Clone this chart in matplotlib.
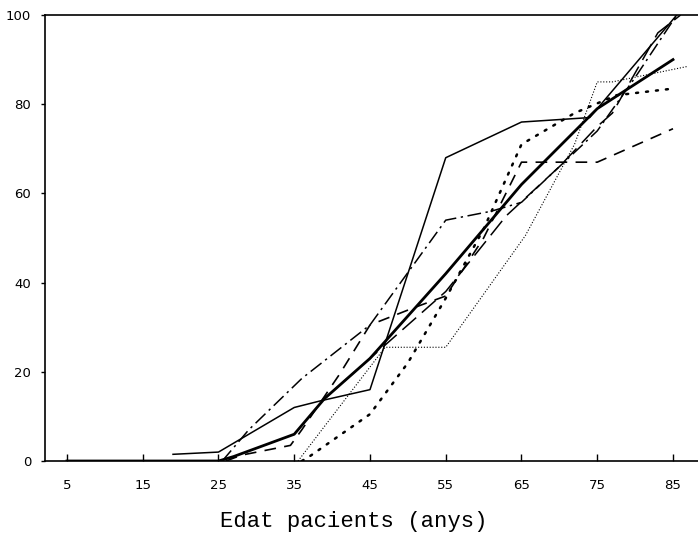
"""
Cumulative % of patients by age, several series plus the mean (thick line).
"""
import matplotlib
matplotlib.use("Agg")
import matplotlib.pyplot as plt

# age ticks (class midpoints)
age_ticks = [5, 15, 25, 35, 45, 55, 65, 75, 85]
pct_ticks = [0, 20, 40, 60, 80, 100]

# mean curve (thick solid)
mean_x = [5, 25, 27, 35, 39, 45, 55, 65, 75, 85]
mean_y = [0, 0, 1, 6, 14, 23, 42, 62, 79, 90]

# thin solid
solid_x = [19, 25, 27, 35, 38.5, 45, 55, 65, 74, 85.5]
solid_y = [1.5, 2, 4, 12, 13.5, 16, 68, 76, 77, 100]

# dash-dot
dashdot_x = [25.5, 29, 36, 45, 55, 61, 65, 70, 75, 80, 85.5]
dashdot_y = [0, 7, 18.5, 30.5, 54, 56, 58, 66, 74, 86, 100]

# medium dashes
dashed_x = [26, 28, 34.5, 36, 41, 45, 51, 55, 60, 65, 75, 85]
dashed_y = [0, 1.3, 3.5, 7, 19.5, 30.5, 34.5, 37, 50, 67, 67, 74.5]

# long dashes
longdash_x = [39, 47, 55, 63, 70, 75, 77, 83, 86]
longdash_y = [14, 26, 38, 55, 66, 75, 78, 96, 100]

# fine dots
finedot_x = [35.5, 40, 47, 55, 65.5, 72, 75, 77, 87]
finedot_y = [0, 10, 25.5, 25.5, 50.5, 71, 85, 85, 88.5]

# coarse dots
coarsedot_x = [36, 37, 45, 50, 55, 60, 65, 72, 77.5, 85]
coarsedot_y = [0, 1, 10.5, 22, 36.5, 52, 71, 78, 82, 83.5]

fig = plt.figure(figsize=(6.98, 5.37), dpi=100)
ax = fig.add_axes([45 / 698, 1 - 461 / 537, 1 - 45 / 698, (461 - 15) / 537])

ax.plot(solid_x, solid_y, color="black", lw=1.1)
ax.plot(dashdot_x, dashdot_y, color="black", lw=1.1, ls=(0, (9, 3, 1.5, 3)))
ax.plot(dashed_x, dashed_y, color="black", lw=1.2, ls=(0, (7, 5)))
ax.plot(longdash_x, longdash_y, color="black", lw=1.1, ls=(0, (12, 5)))
ax.plot(finedot_x, finedot_y, color="black", lw=0.8, ls=(0, (1, 1.6)))
ax.plot(coarsedot_x, coarsedot_y, color="black", lw=1.8, ls=(0, (0.8, 3.2)),
        dash_capstyle="round")
ax.plot(mean_x, mean_y, color="black", lw=2.0)

ax.set_xlim(2.1, 88.3)
ax.set_ylim(0, 100)
ax.spines["right"].set_visible(False)
for s in ["left", "bottom", "top"]:
    ax.spines[s].set_linewidth(1.2)

ax.set_xticks(age_ticks)
ax.set_yticks(pct_ticks)
ax.tick_params(axis="x", direction="in", length=5, width=1, pad=13, labelsize=9.5)
ax.tick_params(axis="y", direction="out", length=3, width=1, pad=7, labelsize=9.5)
for lab in ax.get_xticklabels() + ax.get_yticklabels():
    lab.set_family(["Liberation Sans Narrow", "DejaVu Sans"])

fig.text(354 / 698, 1 - 522 / 537, "Edat pacients (anys)", ha="center", va="center",
         family=["Liberation Mono", "DejaVu Sans Mono"], fontsize=16)

fig.savefig("out.png", dpi=100)
